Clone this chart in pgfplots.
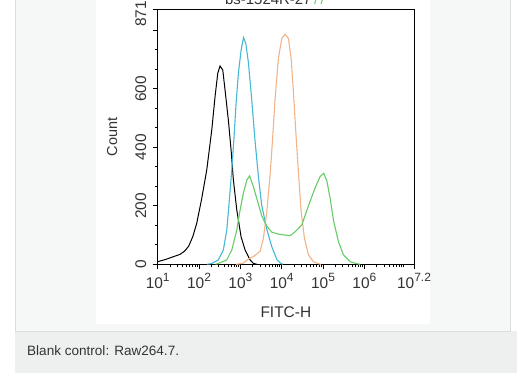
\documentclass[border=0pt]{standalone}
\usepackage{pgfplots}
\pgfplotsset{compat=1.18}
\usepackage{fontspec}
\setmainfont{Liberation Sans}
\definecolor{panel}{HTML}{F6F7F7}
\definecolor{band}{HTML}{EEF0F0}
\definecolor{edge}{HTML}{DCDEDE}
\definecolor{cyanc}{HTML}{45B8D6}
\definecolor{orangec}{HTML}{F2B48A}
\definecolor{greenc}{HTML}{66CC66}
\definecolor{txt}{HTML}{333333}
\newcommand\sups[1]{\raisebox{0.42em}{\fontsize{12}{13}\selectfont #1}}

\pgfplotstableread{
x y
1.00 9
1.20 17
1.419 28
1.54 34
1.65 45
1.75 62
1.85 95
1.944 140
2.065 225
2.186 322
2.308 459
2.387 573
2.453 653
2.508 678
2.574 664
2.630 595
2.709 493
2.775 391
2.831 288
2.913 186
3.017 94
3.114 49
3.235 15
3.315 3
3.40 0
}\blackdata

\pgfplotstableread{
x y
2.20 0
2.308 3
2.467 15
2.588 49
2.671 117
2.726 208
2.792 322
2.847 436
2.896 550
2.952 653
3.017 732
3.077 775
3.131 755
3.194 690
3.276 560
3.356 420
3.436 300
3.518 200
3.639 120
3.760 60
3.881 17
3.961 5
4.03 0
}\cyandata

\pgfplotstableread{
x y
2.90 0
2.952 1
3.073 4
3.194 18
3.356 30
3.477 45
3.557 89
3.639 180
3.719 305
3.775 419
3.840 567
3.920 704
4.002 772
4.082 786
4.162 772
4.228 704
4.283 590
4.341 453
4.404 316
4.470 180
4.550 89
4.647 32
4.768 9
4.889 2
4.95 0
}\orangedata

\pgfplotstableread{
x y
2.40 0
2.467 3
2.671 15
2.792 49
2.913 117
2.993 186
3.073 243
3.155 288
3.223 302
3.315 265
3.397 225
3.518 165
3.639 130
3.760 110
3.920 103
4.082 100
4.203 98
4.324 111
4.487 135
4.647 200
4.809 262
4.930 300
5.015 311
5.092 285
5.172 225
5.252 150
5.373 77
5.494 32
5.655 9
5.818 2
5.90 0
}\greendata

\begin{document}
\begin{tikzpicture}
\useasboundingbox (0,0) rectangle (517bp,-373bp);
\fill[white] (0,0) rectangle (517bp,-373bp);
\fill[panel] (15bp,0) rectangle (511bp,-331bp);
\fill[band] (15bp,-331bp) rectangle (517bp,-373bp);
\draw[edge, line width=1bp] (15.5bp,0) -- (15.5bp,-331bp);
\draw[edge, line width=1bp] (15bp,-331bp) -- (511bp,-331bp);
\draw[edge, line width=1bp] (510.5bp,0) -- (510.5bp,-331bp);
\fill[white] (96bp,0) rectangle (430bp,-324bp);
\node[anchor=base west, text=txt, font=\fontsize{13.6}{16}\selectfont, inner sep=0pt] at (27bp,-355bp) {Blank control: Raw264.7.};
\node[anchor=base, text=txt, font=\fontsize{15}{17}\selectfont, inner sep=0pt] at (275bp,-4.5bp) {bs-1524R-27\textcolor{greenc}{\,/\,/}};
\begin{axis}[
  at={(157.7bp,-264.3bp)}, anchor=south west,
  scale only axis, width=256.3bp, height=254.8bp,
  xmin=1, xmax=7.2, ymin=0, ymax=871,
  axis line style={black, line width=0.9bp},
  tick align=outside, xtick pos=bottom, ytick pos=left,
  major tick length=5bp, minor tick length=3bp,
  tick style={black, line width=0.8bp},
  xtick={1,2,3,4,5,6,7.2},
  xticklabels={10\sups{1},10\sups{2},10\sups{3},10\sups{4},10\sups{5},10\sups{6},10\sups{7.2}},
  minor xtick={1.301,1.477,1.602,1.699,1.778,1.845,1.903,1.954,
               2.301,2.477,2.602,2.699,2.778,2.845,2.903,2.954,
               3.301,3.477,3.602,3.699,3.778,3.845,3.903,3.954,
               4.301,4.477,4.602,4.699,4.778,4.845,4.903,4.954,
               5.301,5.477,5.602,5.699,5.778,5.845,5.903,5.954,
               6.301,6.477,6.602,6.699,6.778,6.845,6.903,6.954},
  ytick={0,200,400,600,800,871},
  yticklabels={0,200,400,600,,\hspace*{-9bp}871},
  minor ytick={66.67,133.33,266.67,333.33,466.67,533.33,666.67,733.33},
  tick label style={font=\fontsize{15.5}{17}\selectfont, text=txt},
  xticklabel style={anchor=base, inner sep=0pt},
  xticklabel shift=19bp,
  yticklabel style={rotate=90, anchor=base, inner sep=0pt},
  yticklabel shift=6.5bp,
  xlabel={FITC-H}, ylabel={Count},
  xlabel style={at={(axis description cs:0.5,-0.187)}, anchor=center, font=\fontsize{15.5}{17}\selectfont, text=txt},
  ylabel style={at={(axis description cs:-0.178,0.5)}, anchor=center, font=\fontsize{14.5}{16}\selectfont, text=txt},
]
\addplot[black, line width=1bp, no marks] table[x=x,y=y] {\blackdata};
\addplot[cyanc, line width=1.1bp, no marks] table[x=x,y=y] {\cyandata};
\addplot[orangec, line width=1.1bp, no marks] table[x=x,y=y] {\orangedata};
\addplot[greenc, line width=1.1bp, no marks] table[x=x,y=y] {\greendata};
\end{axis}
\end{tikzpicture}
\end{document}
